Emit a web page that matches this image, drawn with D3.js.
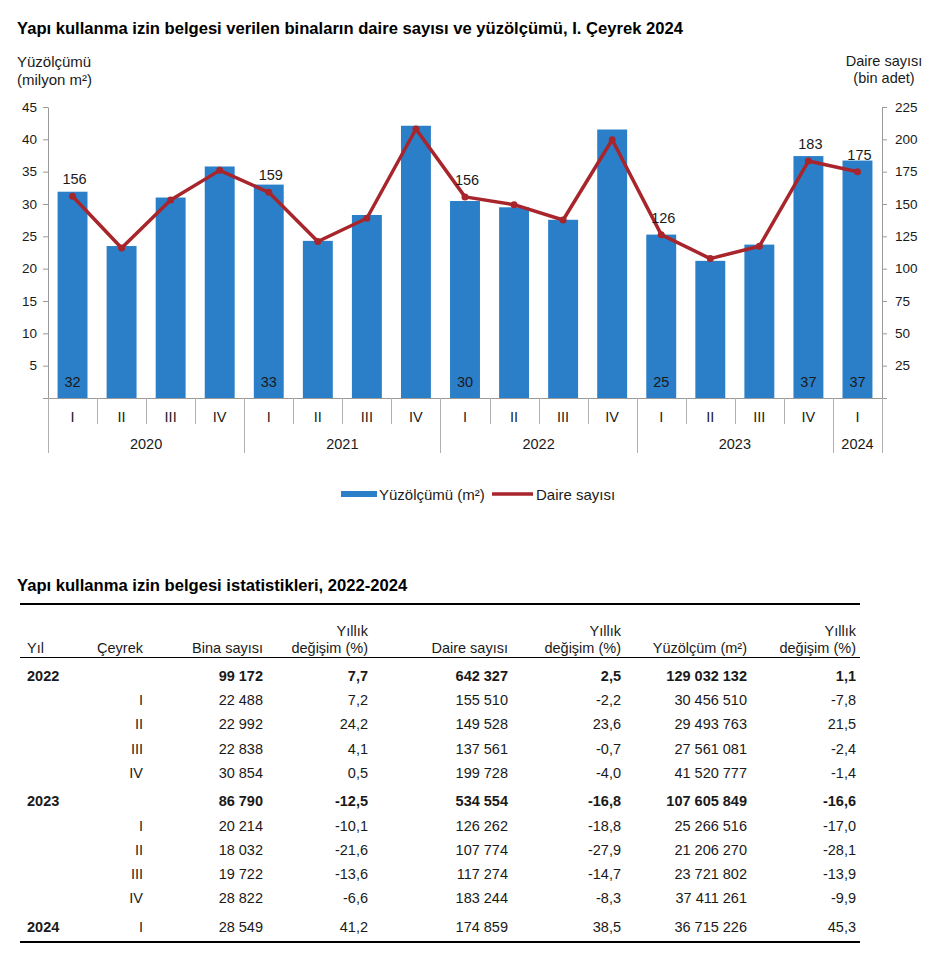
<!DOCTYPE html>
<html>
<head>
<meta charset="utf-8">
<script src="https://cdn.jsdelivr.net/npm/d3@7"></script>
<style>
  html, body { margin: 0; padding: 0; background: #fff; }
  svg { display: block; font-family: "Liberation Sans", Arial, sans-serif; }
</style>
</head>
<body>
<svg id="chart" width="952" height="970"></svg>
<script>
// ---------- Chart data ----------
const years = ["2020", "2021", "2022", "2023", "2024"];
const yearQuarterCounts = [4, 4, 4, 4, 1];
const quarterLabels = ["I","II","III","IV","I","II","III","IV","I","II","III","IV","I","II","III","IV","I"];
// Yüzölçümü (milyon m²)
const areaValues = [31.9, 23.5, 31.0, 35.8, 33.0, 24.3, 28.3, 42.1, 30.46, 29.49, 27.56, 41.52, 25.27, 21.21, 23.72, 37.41, 36.72];
// Daire sayısı (bin adet)
const dwellingValues = [156, 116, 153, 176, 159, 121, 139, 208, 155.5, 149.5, 137.6, 199.7, 126.3, 107.8, 117.3, 183.2, 174.9];
const labelledIdx = [0, 4, 8, 12, 15, 16];
const leftTicks = [5, 10, 15, 20, 25, 30, 35, 40, 45];
const rightTicks = [25, 50, 75, 100, 125, 150, 175, 200, 225];

// ---------- Table data ----------
const tYear    = ["2022", "", "", "", "", "2023", "", "", "", "", "2024"];
const tQuarter = ["", "I", "II", "III", "IV", "", "I", "II", "III", "IV", "I"];
const tBold    = [true, false, false, false, false, true, false, false, false, false, false];
const tBina    = ["99 172", "22 488", "22 992", "22 838", "30 854", "86 790", "20 214", "18 032", "19 722", "28 822", "28 549"];
const tBinaChg = ["7,7", "7,2", "24,2", "4,1", "0,5", "-12,5", "-10,1", "-21,6", "-13,6", "-6,6", "41,2"];
const tDaire   = ["642 327", "155 510", "149 528", "137 561", "199 728", "534 554", "126 262", "107 774", "117 274", "183 244", "174 859"];
const tDaireChg= ["2,5", "-2,2", "23,6", "-0,7", "-4,0", "-16,8", "-18,8", "-27,9", "-14,7", "-8,3", "38,5"];
const tYuz     = ["129 032 132", "30 456 510", "29 493 763", "27 561 081", "41 520 777", "107 605 849", "25 266 516", "21 206 270", "23 721 802", "37 411 261", "36 715 226"];
const tYuzChg  = ["1,1", "-7,8", "21,5", "-2,4", "-1,4", "-16,6", "-17,0", "-28,1", "-13,9", "-9,9", "45,3"];

const svg = d3.select("#chart");
const BLUE = "#2a7fc8", RED = "#a8252b", AXIS = "#9a9a9a", TXT = "#1a1a1a";

// Title
svg.append("text").attr("x", 17).attr("y", 34)
  .attr("font-size", 16.6).attr("font-weight", "bold").attr("fill", "#000")
  .text("Yapı kullanma izin belgesi verilen binaların daire sayısı ve yüzölçümü, I. Çeyrek 2024");

// Axis titles
svg.append("text").attr("x", 17).attr("y", 67).attr("font-size", 15).attr("fill", TXT).text("Yüzölçümü");
svg.append("text").attr("x", 17).attr("y", 85).attr("font-size", 15).attr("fill", TXT).text("(milyon m²)");
svg.append("text").attr("x", 884).attr("y", 66).attr("text-anchor", "middle").attr("font-size", 14.5).attr("fill", TXT).text("Daire sayısı");
svg.append("text").attr("x", 884).attr("y", 83).attr("text-anchor", "middle").attr("font-size", 14.5).attr("fill", TXT).text("(bin adet)");

// Scales
const idx = d3.range(quarterLabels.length);
const x = d3.scaleBand().domain(idx).range([48, 882]).paddingInner(0.39).paddingOuter(0.195);
const yL = d3.scaleLinear().domain([0, 45]).range([398, 107]);
const yR = d3.scaleLinear().domain([0, 225]).range([398, 107]);
const step = x.step();
const x0 = 48;

// Bars
svg.append("g").selectAll("rect").data(idx).join("rect")
  .attr("x", i => x(i)).attr("width", x.bandwidth())
  .attr("y", i => yL(areaValues[i])).attr("height", i => yL(0) - yL(areaValues[i]))
  .attr("fill", BLUE);

// Left axis
const gL = svg.append("g").attr("transform", "translate(48,0)")
  .call(d3.axisLeft(yL).tickValues(leftTicks).tickSize(5).tickSizeOuter(0).tickPadding(6));
gL.select(".domain").attr("stroke", AXIS);
gL.selectAll(".tick line").attr("stroke", AXIS);
gL.selectAll(".tick text").attr("font-size", 13.5).attr("fill", TXT).attr("font-family", null);

// Right axis
const gR = svg.append("g").attr("transform", "translate(882,0)")
  .call(d3.axisRight(yR).tickValues(rightTicks).tickSize(5).tickSizeOuter(0).tickPadding(8));
gR.select(".domain").attr("stroke", AXIS);
gR.selectAll(".tick line").attr("stroke", AXIS);
gR.selectAll(".tick text").attr("font-size", 13.5).attr("fill", TXT).attr("font-family", null);

// X baseline
svg.append("line").attr("x1", 43).attr("x2", 887).attr("y1", 398.5).attr("y2", 398.5).attr("stroke", AXIS);

// Separators
const yearBounds = [0];
yearQuarterCounts.forEach(c => yearBounds.push(yearBounds[yearBounds.length - 1] + c));
d3.range(quarterLabels.length + 1).forEach(k => {
  const isYear = yearBounds.includes(k);
  const xx = Math.round(x0 + k * step) + 0.5;
  svg.append("line").attr("x1", xx).attr("x2", xx).attr("y1", 398).attr("y2", isYear ? 453 : 424)
    .attr("stroke", "#b0b0b0");
});

// Quarter labels
svg.append("g").selectAll("text").data(idx).join("text")
  .attr("x", i => x(i) + x.bandwidth() / 2).attr("y", 422)
  .attr("text-anchor", "middle").attr("font-size", 14.5).attr("fill", TXT)
  .text(i => quarterLabels[i]);

// Year labels
svg.append("g").selectAll("text").data(years).join("text")
  .attr("x", (d, j) => x0 + (yearBounds[j] + yearBounds[j + 1]) / 2 * step)
  .attr("y", 449).attr("text-anchor", "middle").attr("font-size", 14.5).attr("fill", TXT)
  .text(d => d);

// Line
const line = d3.line().x(i => x(i) + x.bandwidth() / 2).y(i => yR(dwellingValues[i]));
svg.append("path").datum(idx).attr("d", line)
  .attr("fill", "none").attr("stroke", RED).attr("stroke-width", 3.5).attr("stroke-linejoin", "round");
svg.append("g").selectAll("circle").data(idx).join("circle")
  .attr("cx", i => x(i) + x.bandwidth() / 2).attr("cy", i => yR(dwellingValues[i]))
  .attr("r", 3.5).attr("fill", RED);

// Line labels
svg.append("g").selectAll("text").data(labelledIdx).join("text")
  .attr("x", i => x(i) + x.bandwidth() / 2 + 2).attr("y", i => yR(dwellingValues[i]) - 12)
  .attr("text-anchor", "middle").attr("font-size", 14.5).attr("fill", TXT)
  .text(i => Math.round(dwellingValues[i]));

// Bar labels
svg.append("g").selectAll("text").data(labelledIdx).join("text")
  .attr("x", i => x(i) + x.bandwidth() / 2).attr("y", 387)
  .attr("text-anchor", "middle").attr("font-size", 14.5).attr("fill", TXT)
  .text(i => Math.round(areaValues[i]));

// Legend
const lg = svg.append("g");
lg.append("rect").attr("x", 341).attr("y", 491).attr("width", 36).attr("height", 6).attr("fill", BLUE);
lg.append("text").attr("x", 379).attr("y", 499.5).attr("font-size", 15).attr("fill", TXT).text("Yüzölçümü (m²)");
lg.append("line").attr("x1", 492).attr("x2", 533).attr("y1", 494).attr("y2", 494).attr("stroke", RED).attr("stroke-width", 3.5);
lg.append("text").attr("x", 536).attr("y", 499.5).attr("font-size", 15).attr("fill", TXT).text("Daire sayısı");

// ---------- Table ----------
svg.append("text").attr("x", 17).attr("y", 591).attr("font-size", 16.6).attr("font-weight", "bold").attr("fill", "#000")
  .text("Yapı kullanma izin belgesi istatistikleri, 2022-2024");
svg.append("line").attr("x1", 20).attr("x2", 860).attr("y1", 604).attr("y2", 604).attr("stroke", "#000").attr("stroke-width", 2);
svg.append("line").attr("x1", 20).attr("x2", 860).attr("y1", 657.5).attr("y2", 657.5).attr("stroke", "#000").attr("stroke-width", 1);
svg.append("line").attr("x1", 20).attr("x2", 860).attr("y1", 942).attr("y2", 942).attr("stroke", "#000").attr("stroke-width", 2);

const FS = 14.5;
const hdr = svg.append("g").attr("font-size", FS).attr("fill", TXT);
const h2 = 653;
hdr.append("text").attr("x", 27).attr("y", h2).text("Yıl");
hdr.append("text").attr("x", 143).attr("y", h2).attr("text-anchor", "end").text("Çeyrek");
hdr.append("text").attr("x", 263).attr("y", h2).attr("text-anchor", "end").text("Bina sayısı");
hdr.append("text").attr("x", 508).attr("y", h2).attr("text-anchor", "end").text("Daire sayısı");
hdr.append("text").attr("x", 747).attr("y", h2).attr("text-anchor", "end").text("Yüzölçüm (m²)");
[368, 621, 856].forEach(cx => {
  hdr.append("text").attr("x", cx).attr("y", h2 - 17).attr("text-anchor", "end").text("Yıllık");
  hdr.append("text").attr("x", cx).attr("y", h2).attr("text-anchor", "end").text("değişim (%)");
});

const rowY = [];
let yy = 681;
tYear.forEach((d, r) => {
  if (r > 0) yy += (tYear[r] !== "" ? 28.5 : 24.2);
  rowY.push(yy);
});
const cols = [
  { arr: tBina, x: 263 }, { arr: tBinaChg, x: 368 }, { arr: tDaire, x: 508 },
  { arr: tDaireChg, x: 621 }, { arr: tYuz, x: 747 }, { arr: tYuzChg, x: 856 }
];
const body = svg.append("g").attr("font-size", FS).attr("fill", TXT);
tYear.forEach((d, r) => {
  if (d) body.append("text").attr("x", 27).attr("y", rowY[r]).attr("font-weight", "bold").text(d);
  if (tQuarter[r]) body.append("text").attr("x", 143).attr("y", rowY[r]).attr("text-anchor", "end").text(tQuarter[r]);
  cols.forEach(c => {
    body.append("text").attr("x", c.x).attr("y", rowY[r]).attr("text-anchor", "end")
      .attr("font-weight", tBold[r] ? "bold" : null).text(c.arr[r]);
  });
});
</script>
</body>
</html>
